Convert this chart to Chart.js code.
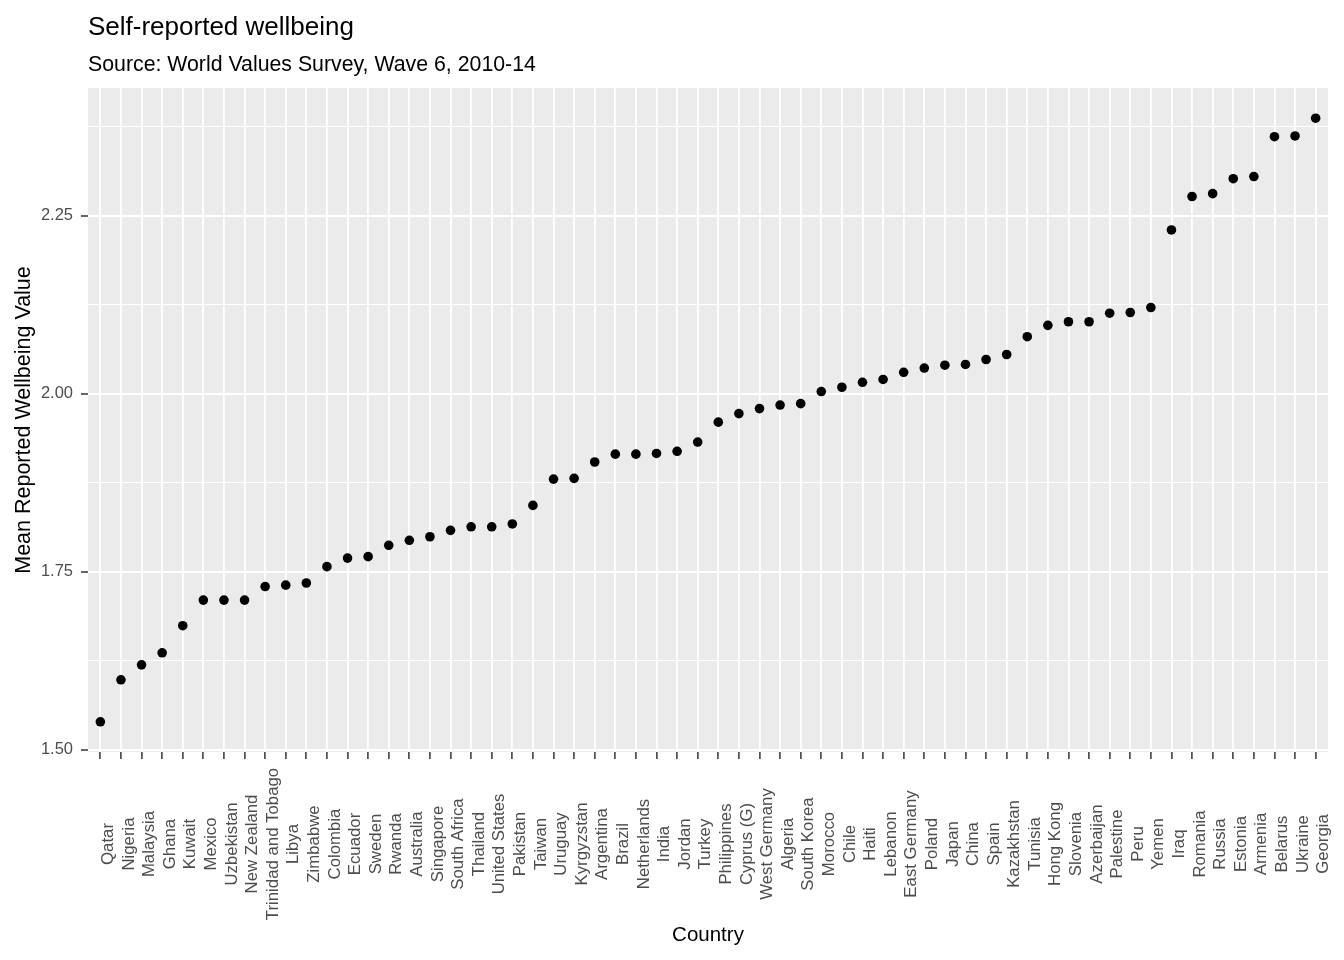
<!DOCTYPE html>
<html>
<head>
<meta charset="utf-8">
<title>Self-reported wellbeing</title>
<script src="https://cdn.jsdelivr.net/npm/chart.js@4.4.1/dist/chart.umd.min.js"></script>
<style>
	html, body { margin: 0; padding: 0; background: #fff; }
</style>
</head>
<body>
<canvas id="myChart" width="1344" height="960"></canvas>
<script>
	const countries = ["Qatar", "Nigeria", "Malaysia", "Ghana", "Kuwait", "Mexico", "Uzbekistan", "New Zealand",
		"Trinidad and Tobago", "Libya", "Zimbabwe", "Colombia", "Ecuador", "Sweden", "Rwanda", "Australia",
		"Singapore", "South Africa", "Thailand", "United States", "Pakistan", "Taiwan", "Uruguay", "Kyrgyzstan",
		"Argentina", "Brazil", "Netherlands", "India", "Jordan", "Turkey", "Philippines", "Cyprus (G)",
		"West Germany", "Algeria", "South Korea", "Morocco", "Chile", "Haiti", "Lebanon", "East Germany",
		"Poland", "Japan", "China", "Spain", "Kazakhstan", "Tunisia", "Hong Kong", "Slovenia", "Azerbaijan",
		"Palestine", "Peru", "Yemen", "Iraq", "Romania", "Russia", "Estonia", "Armenia", "Belarus", "Ukraine", "Georgia"]
	const wellbeing = [1.539, 1.598, 1.619, 1.636, 1.674, 1.710, 1.710, 1.710, 1.729, 1.731, 1.734, 1.757,
		1.769, 1.771, 1.787, 1.794, 1.799, 1.808, 1.813, 1.813, 1.817, 1.843, 1.880, 1.881, 1.904, 1.915,
		1.915, 1.916, 1.919, 1.932, 1.960, 1.972, 1.979, 1.984, 1.986, 2.003, 2.009, 2.016, 2.020, 2.030,
		2.036, 2.040, 2.041, 2.048, 2.055, 2.080, 2.096, 2.101, 2.101, 2.113, 2.114, 2.121, 2.230, 2.277,
		2.281, 2.302, 2.305, 2.361, 2.362, 2.387]
	const majorTicks = [1.5, 1.75, 2.0, 2.25]
	const minorTicks = [1.625, 1.875, 2.125, 2.375]

	const family = "'Liberation Sans', Arial, sans-serif"
	const isMajor = v => majorTicks.some(m => Math.abs(m - v) < 1e-9)

	// ggplot style 5% expansion of the y range
	const lo = Math.min(...wellbeing), hi = Math.max(...wellbeing)
	const pad = (hi - lo) * 0.05

	const panel = {
		id: 'panel',
		beforeDraw(chart) {
			const a = chart.chartArea, c = chart.ctx
			c.save()
			c.fillStyle = '#EBEBEB'
			c.fillRect(a.left, a.top, a.right - a.left, a.bottom - a.top)
			c.restore()
		},
		afterDraw(chart) {
			const a = chart.chartArea, c = chart.ctx, xs = chart.scales.x
			c.save()
			c.fillStyle = '#000'
			c.textAlign = 'left'
			c.textBaseline = 'alphabetic'
			c.font = "26px " + family
			c.fillText('Self-reported wellbeing', a.left, 35)
			c.font = "21.3px " + family
			c.fillText('Source: World Values Survey, Wave 6, 2010-14', a.left, 71)
			// rotated, centred category labels
			c.fillStyle = '#4D4D4D'
			c.font = "16.8px " + family
			c.textAlign = 'center'
			c.textBaseline = 'middle'
			countries.forEach((name, i) => {
				c.save()
				c.translate(xs.getPixelForValue(i) + 8, a.bottom + 92)
				c.rotate(-Math.PI / 2)
				c.fillText(name, 0, 0)
				c.restore()
			})
			c.restore()
		}
	}

	const ctx = document.getElementById('myChart').getContext('2d')
	new Chart(ctx, {
		type: 'scatter',
		data: {
			datasets: [{
				data: countries.map((c, i) => ({x: i, y: wellbeing[i]})),
				backgroundColor: '#000',
				borderColor: '#000',
				borderWidth: 0,
				pointRadius: 4.8,
				pointHoverRadius: 4.8
			}]
		},
		options: {
			responsive: false,
			animation: false,
			events: [],
			layout: {padding: {left: 0, right: 16, top: 88, bottom: 0}},
			plugins: {legend: {display: false}, tooltip: {enabled: false}},
			scales: {
				x: {
					type: 'linear',
					min: -0.6,
					max: countries.length - 0.4,
					afterBuildTicks: s => { s.ticks = countries.map((c, i) => ({value: i})) },
					afterFit: s => { s.height = 208 },
					ticks: {display: false},
					grid: {color: '#fff', lineWidth: 1.8, tickColor: '#333', tickLength: 7, tickWidth: 1.5},
					border: {display: false},
					title: {display: true, text: 'Country', color: '#000', font: {family: family, size: 20.5}, padding: {top: 0, bottom: 12}}
				},
				y: {
					min: lo - pad,
					max: hi + pad,
					afterBuildTicks: s => { s.ticks = majorTicks.concat(minorTicks).sort((a, b) => a - b).map(v => ({value: v})) },
					afterFit: s => { s.width = 88 },
					ticks: {
						color: '#4D4D4D',
						font: {family: family, size: 16.5},
						padding: 8,
						callback: v => isMajor(v) ? v.toFixed(2) : ''
					},
					grid: {
						color: '#fff',
						lineWidth: c => isMajor(c.tick.value) ? 2 : 1.1,
						tickColor: c => isMajor(c.tick.value) ? '#333' : 'rgba(0,0,0,0)',
						tickLength: 7,
						tickWidth: 1.5
					},
					border: {display: false},
					title: {display: true, text: 'Mean Reported Wellbeing Value', color: '#000', font: {family: family, size: 21.5}, padding: {top: 11, bottom: 0}}
				}
			}
		},
		plugins: [panel]
	})
</script>
</body>
</html>
